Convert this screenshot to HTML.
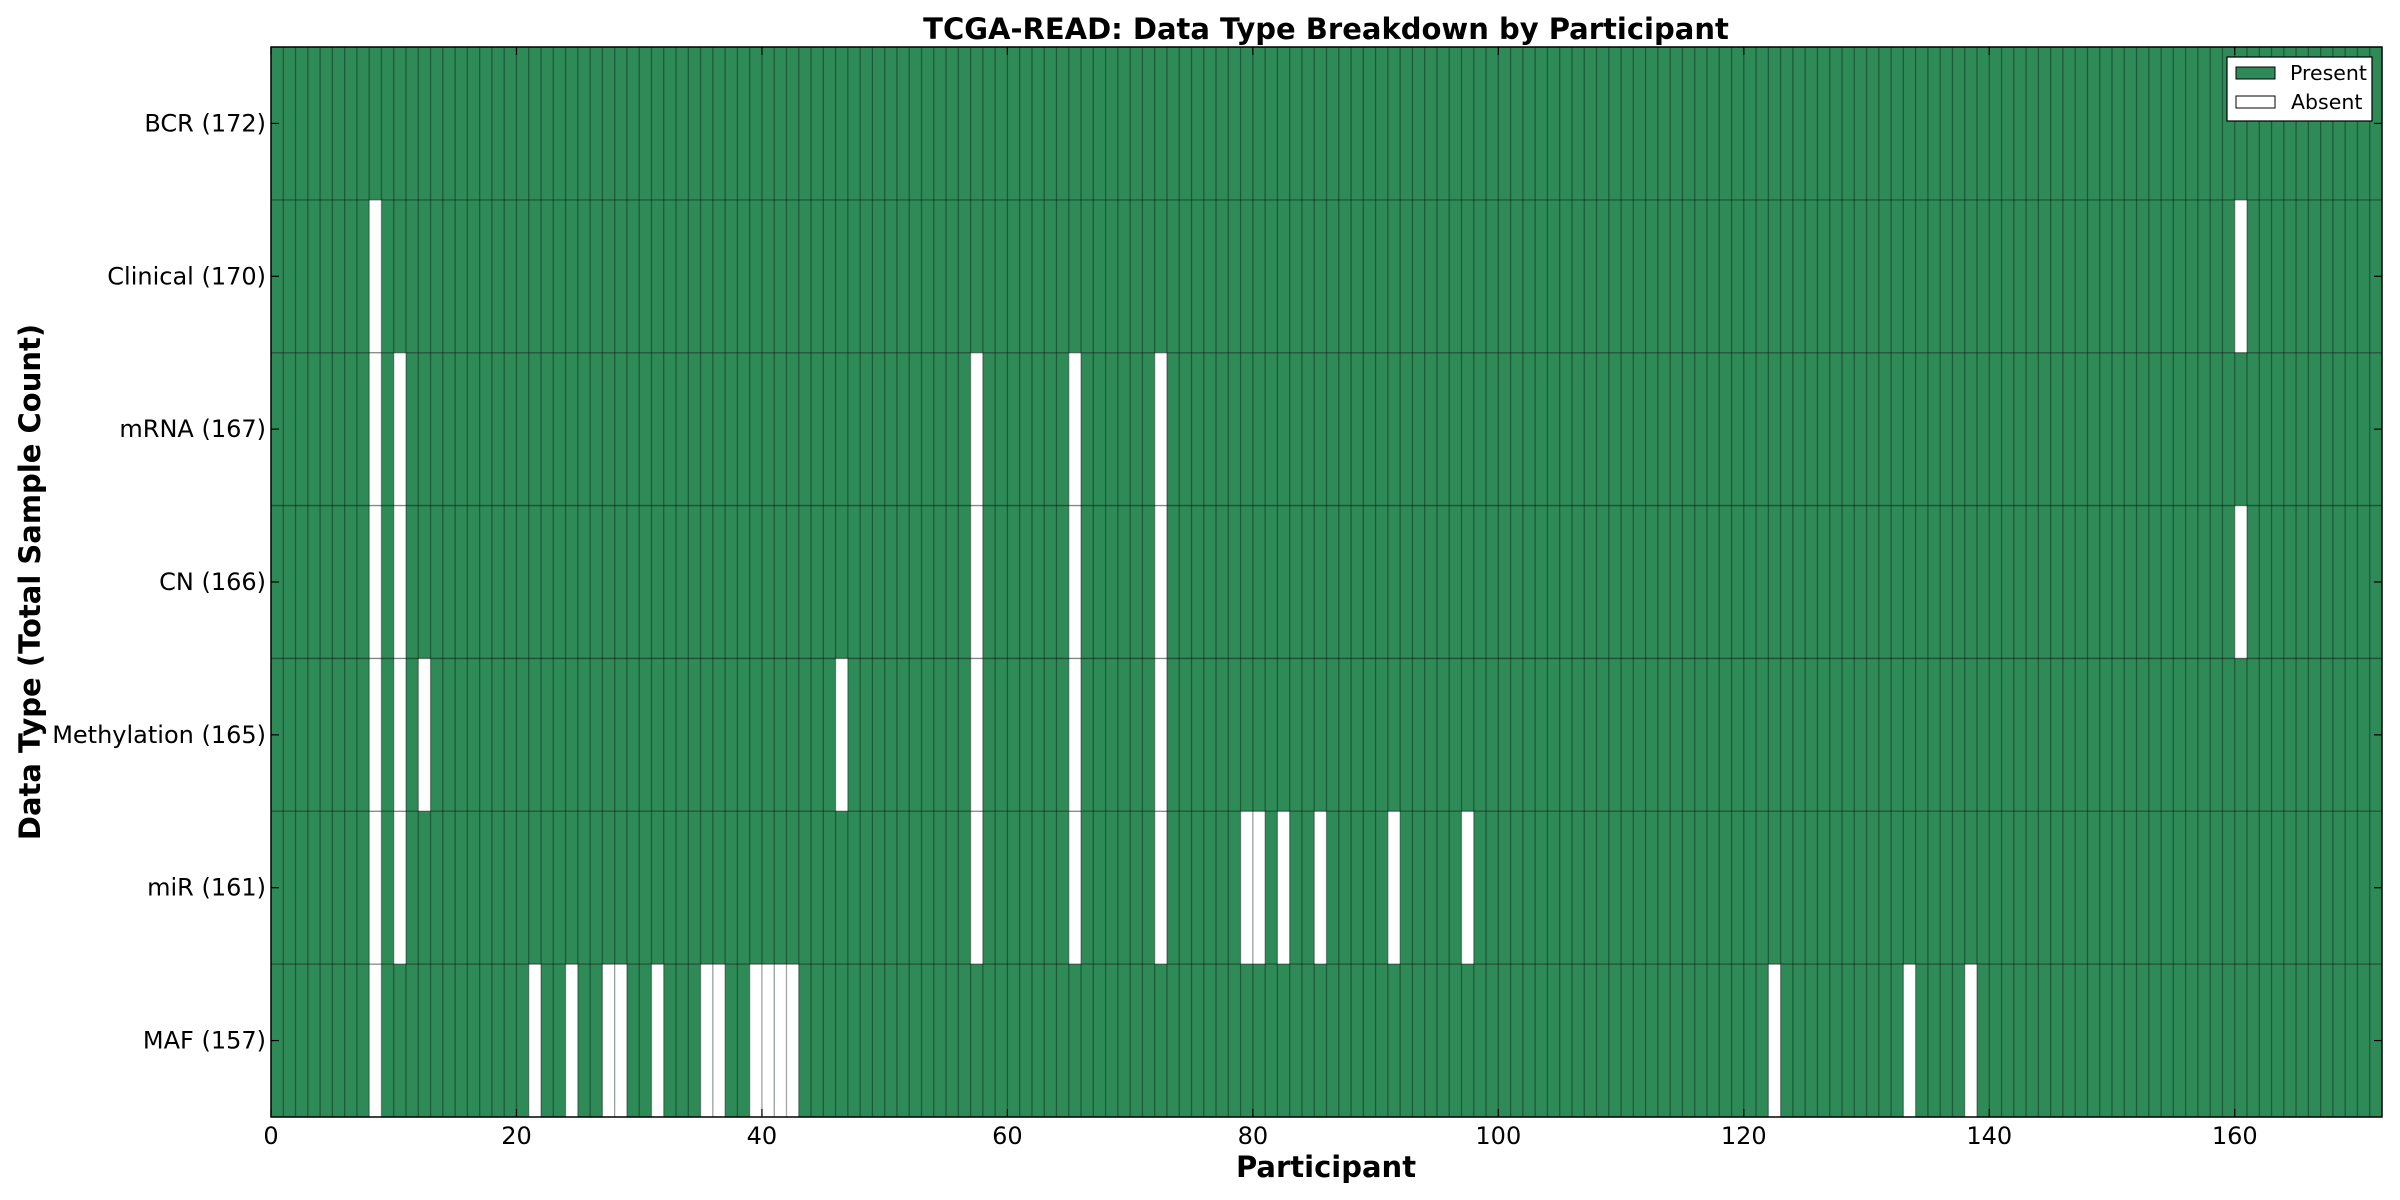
<!DOCTYPE html>
<html><head><meta charset="utf-8"><style>
html,body{margin:0;padding:0;background:#fff;}
svg{display:block;font-family:"DejaVu Sans","Liberation Sans",sans-serif;}
</style></head><body>
<svg id="s" width="2400" height="1200" xmlns="http://www.w3.org/2000/svg"></svg>
<script>
const L=271,R=2382,T=47,B=1117,N=172;
const cw=(R-L)/N, rh=(B-T)/7;
const rows=[
["BCR (172)",[]],
["Clinical (170)",[8,160]],
["mRNA (167)",[8,10,57,65,72]],
["CN (166)",[8,10,57,65,72,160]],
["Methylation (165)",[8,10,12,46,57,65,72]],
["miR (161)",[8,10,57,65,72,79,80,82,85,91,97]],
["MAF (157)",[8,21,24,27,28,31,35,36,39,40,41,42,122,133,138]]];
let h='';
rows.forEach((r,ri)=>{
 const y=T+ri*rh;
 h+=`<rect x="${L}" y="${y}" width="${R-L}" height="${rh}" fill="#2e8b57"/>`;
 r[1].forEach(c=>{h+=`<rect x="${L+c*cw}" y="${y}" width="${cw}" height="${rh}" fill="#fff"/>`;});
});
for(let i=1;i<N;i++){const x=L+i*cw;h+=`<line x1="${x}" y1="${T}" x2="${x}" y2="${B}" stroke="#000" stroke-opacity="0.35" stroke-width="1.3"/>`;}
for(let i=1;i<7;i++){const y=T+i*rh;h+=`<line x1="${L}" y1="${y}" x2="${R}" y2="${y}" stroke="#000" stroke-opacity="0.45" stroke-width="1.3"/>`;}
h+=`<rect x="${L}" y="${T}" width="${R-L}" height="${B-T}" fill="none" stroke="#000" stroke-width="1.5"/>`;
for(let v=0;v<=160;v+=20){const x=L+v*cw;
 h+=`<line x1="${x}" y1="${B}" x2="${x}" y2="${B-8}" stroke="#000" stroke-width="1.2"/><line x1="${x}" y1="${T}" x2="${x}" y2="${T+8}" stroke="#000" stroke-width="1.2"/>`;
 h+=`<text x="${x}" y="${B+27}" font-size="24" text-anchor="middle">${v}</text>`;}
rows.forEach((r,ri)=>{const y=T+(ri+0.5)*rh;
 h+=`<line x1="${L}" y1="${y}" x2="${L+8}" y2="${y}" stroke="#000" stroke-width="1.2"/><line x1="${R}" y1="${y}" x2="${R-8}" y2="${y}" stroke="#000" stroke-width="1.2"/>`;
 h+=`<text x="266" y="${y+8}" font-size="24" text-anchor="end">${r[0]}</text>`;});
h+=`<text x="1326" y="39" font-size="29" font-weight="bold" text-anchor="middle">TCGA-READ: Data Type Breakdown by Participant</text>`;
h+=`<text x="1326" y="1177" font-size="29" font-weight="bold" text-anchor="middle">Participant</text>`;
h+=`<text transform="translate(40,582) rotate(-90)" font-size="29" font-weight="bold" text-anchor="middle">Data Type (Total Sample Count)</text>`;
h+=`<rect x="2227" y="57" width="145" height="64" fill="#fff" stroke="#000" stroke-width="1.2"/>`;
h+=`<rect x="2236" y="67" width="39" height="12" fill="#2e8b57" stroke="#000" stroke-width="1"/>`;
h+=`<rect x="2236" y="96" width="39" height="12" fill="#fff" stroke="#000" stroke-width="1"/>`;
h+=`<text x="2290" y="80" font-size="20.5">Present</text><text x="2291" y="109" font-size="20.5">Absent</text>`;
document.getElementById('s').innerHTML=h;
</script>
</body></html>
